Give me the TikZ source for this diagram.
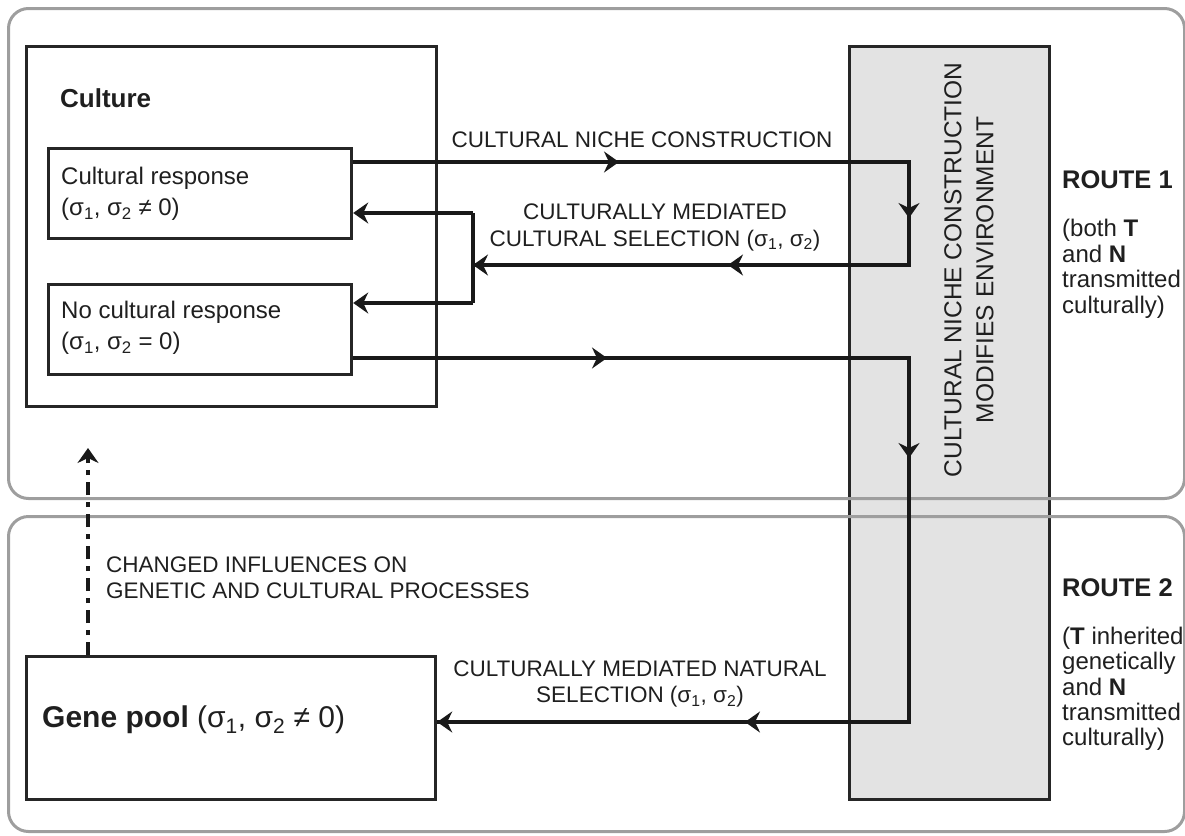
\documentclass[tikz,border=0pt]{standalone}
\usepackage{fontspec}
\setmainfont{Liberation Sans}
\usetikzlibrary{arrows.meta}
\begin{document}
\begin{tikzpicture}[x=1pt,y=-1pt,
  box/.style={draw=black!85, line width=3.2pt, inner sep=0pt, anchor=north west},
  frame/.style={draw=black!38, line width=3pt, rounded corners=20pt, inner sep=0pt, anchor=north west},
  conn/.style={draw=black!90, line width=3.2pt, line join=miter},
  tip/.style={-{Stealth[length=15pt,width=21pt,inset=5pt]}},
  dashconn/.style={conn, dash pattern=on 13pt off 7pt on 5pt off 7pt},
  txt/.style={inner sep=0pt, text=black!88, font=\fontsize{22.5}{27}\selectfont},
]
\useasboundingbox (0,0) rectangle (1185,835);
% gray environment box
\node[box, fill=black!11, minimum width=200pt, minimum height=753pt] (env) at (848,45) {};
% route frames
\node[frame, minimum width=1176pt, minimum height=490pt] (route1) at (7,7) {};
\node[frame, minimum width=1176pt, minimum height=315pt] (route2) at (7,515) {};
% boxes
\node[box, minimum width=410pt, minimum height=360pt] (culture) at (25,45) {};
\node[box, minimum width=303pt, minimum height=90pt] (cr) at (47,147) {};
\node[box, minimum width=303pt, minimum height=90pt] (ncr) at (47,283) {};
\node[box, minimum width=409pt, minimum height=143pt] (gene) at (25,655) {};
% texts
\node[txt, anchor=west, font=\fontsize{26}{30}\selectfont\bfseries] (culturetxt) at (60,98) {Culture};
\node[txt, anchor=west, align=left, font=\fontsize{24}{31}\selectfont] (crt) at (61,194) {Cultural response\\(σ\textsubscript{1}, σ\textsubscript{2} ≠ 0)};
\node[txt, anchor=west, align=left, font=\fontsize{24}{31}\selectfont] (ncrt) at (61,328) {No cultural response\\(σ\textsubscript{1}, σ\textsubscript{2} = 0)};
\node[txt, anchor=west, font=\fontsize{30}{34}\selectfont] (genetxt) at (42,720) {\textbf{Gene pool} (σ\textsubscript{1}, σ\textsubscript{2} ≠ 0)};
\node[txt] (t1) at (642,140) {CULTURAL NICHE CONSTRUCTION};
\node[txt, align=center] (t2) at (655,227) {CULTURALLY MEDIATED\\CULTURAL SELECTION (σ\textsubscript{1}, σ\textsubscript{2})};
\node[txt, align=center, rotate=90, font=\fontsize{24.5}{32}\selectfont] (t3) at (969,270) {CULTURAL NICHE CONSTRUCTION\\MODIFIES ENVIRONMENT};
\node[txt, anchor=west, align=left, font=\fontsize{22.5}{26}\selectfont] (t4) at (106,578) {CHANGED INFLUENCES ON\\GENETIC AND CULTURAL PROCESSES};
\node[txt, align=center, font=\fontsize{22.5}{26}\selectfont] (t5) at (640,684) {CULTURALLY MEDIATED NATURAL\\SELECTION (σ\textsubscript{1}, σ\textsubscript{2})};
\node[txt, anchor=west, font=\fontsize{25.5}{28}\selectfont\bfseries] (r1) at (1062,180) {ROUTE 1};
\node[txt, anchor=north west, align=left, font=\fontsize{24}{25.5}\selectfont] (r1t) at (1062,219) {(both \textbf{T}\\and \textbf{N}\\transmitted\\culturally)};
\node[txt, anchor=west, font=\fontsize{25.5}{28}\selectfont\bfseries] (r2) at (1062,588) {ROUTE 2};
\node[txt, anchor=north west, align=left, font=\fontsize{24}{25.3}\selectfont] (r2t) at (1062,627) {(\textbf{T} inherited\\genetically\\and \textbf{N}\\transmitted\\culturally)};
% connector coordinates
\coordinate (c1) at (909,162);
\coordinate (c2) at (909,265);
\coordinate (c3) at (473,265);
\coordinate (c4) at (473,213);
\coordinate (c5) at (473,303);
\coordinate (c6) at (909,358);
\coordinate (c7) at (909,722);
\coordinate (c8) at (88,448);
\coordinate (m1) at (619,162);
\coordinate (m2) at (909,218);
\coordinate (m3) at (728,265);
\coordinate (m4) at (607,358);
\coordinate (m5) at (909,458);
\coordinate (m6) at (745,722);
% route 1 loop
\draw[conn] (cr.east |- c1) -- (c1) -- (c2) -- (c3);
\draw[conn, tip] (cr.east |- c1) -- (m1);
\draw[conn, tip] (c1) -- (m2);
\draw[conn, tip] (c2) -- (m3);
\draw[conn, tip] (m3) -- (c3);
\draw[conn] (c4) -- (c5);
\draw[conn, tip] (c4) -- (cr.east |- c4);
\draw[conn, tip] (c5) -- (ncr.east |- c5);
% route 2 loop
\draw[conn] (ncr.east |- c6) -- (c6) -- (c7) -- (gene.east |- c7);
\draw[conn, tip] (ncr.east |- c6) -- (m4);
\draw[conn, tip] (c6) -- (m5);
\draw[conn, tip] (c7) -- (m6);
\draw[conn, tip] (m6) -- (gene.east |- c7);
% dashed feedback
\draw[dashconn, tip] (gene.north -| c8) -- (c8);
\end{tikzpicture}
\end{document}
